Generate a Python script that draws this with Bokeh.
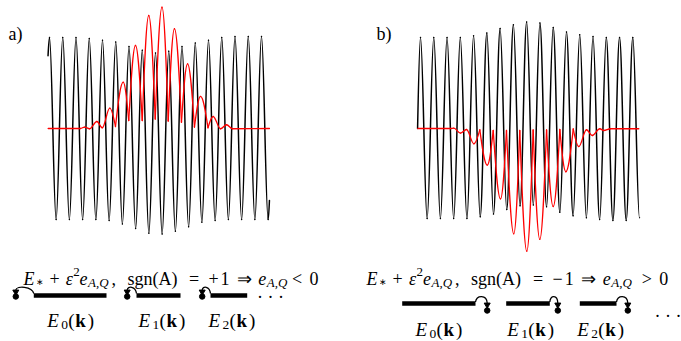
from bokeh.plotting import figure
from bokeh.models import Range1d
from bokeh.layouts import row
from bokeh.embed import file_html
from bokeh.resources import INLINE
from bokeh.core.properties import value

# ---------------- values ----------------
# black carrier: value at each successive peak (x = 0,1,2,..) and trough (x = 0.5,1.5,..)
# x in carrier periods, y in carrier-amplitude units
A_PEAKS = [1.00, 1.00, 1.00, 0.99, 0.97, 0.95, 0.90, 0.86, 0.83, 0.85, 0.90, 0.94, 0.97, 1.00, 1.01, 1.01, 1.01]
A_TROUGHS = [-1.00, -1.00, -1.00, -1.00, -1.01, -1.05, -1.10, -1.15, -1.16, -1.13, -1.08, -1.03, -1.01, -1.00, -1.00, -1.00, -1.00]
A_START = [-0.11, 0.80]
A_END = [16.6, -0.79]

B_PEAKS = [1.00, 1.00, 1.00, 1.00, 1.02, 1.05, 1.10, 1.14, 1.17, 1.16, 1.11, 1.06, 1.03, 1.01, 1.00, 1.00, 1.00]
B_TROUGHS = [-0.99, -0.99, -0.99, -0.99, -0.97, -0.94, -0.89, -0.85, -0.84, -0.86, -0.92, -0.96, -0.98, -1.00, -1.01, -1.01, -0.98]
B_START = [-0.22, 0.0]

# red wave packets: successive extrema
A_RED_X = [-0.10, 2.34, 2.64, 3.02, 3.58, 3.98, 4.55, 4.98, 5.56, 5.98, 6.49, 7.00, 7.49, 7.98, 8.49,
           8.96, 9.43, 9.96, 10.42, 10.94, 11.40, 11.96, 12.35, 12.91, 13.36, 13.81, 16.60]
A_RED_Y = [0.0, 0.0, 0.016, -0.003, 0.077, 0.008, 0.223, 0.022, 0.509, 0.088, 0.912, 0.088, 1.242, 0.104, 1.333,
           0.082, 1.096, 0.069, 0.711, 0.016, 0.352, 0.008, 0.132, -0.003, 0.041, -0.003, 0.0]

B_RED_X = [-0.20, 2.26, 2.51, 3.01, 3.47, 4.02, 4.47, 5.03, 5.48, 6.03, 6.48, 7.03, 7.48, 8.01, 8.49, 8.99,
           9.50, 10.00, 10.50, 10.95, 11.51, 11.93, 12.51, 12.94, 13.51, 13.81, 14.32, 16.45]
B_RED_Y = [0.0, 0.0, 0.005, -0.05, -0.011, -0.168, -0.014, -0.403, -0.022, -0.773, -0.022, -1.157, -0.022, -1.348,
           -0.016, -1.218, -0.016, -0.857, -0.011, -0.475, -0.005, -0.198, -0.014, -0.077, -0.003, -0.022, -0.003, -0.003]

PANEL_LABELS = ["a)", "b)"]
FORMULA_A = ["E", "\u2217", "+", "\u03b5", "2", "e", "A,Q", ",", "sgn(A)", "=", "+", "1", "\u21d2", "e", "A,Q", "<", "0"]
FORMULA_B = ["E", "\u2217", "+", "\u03b5", "2", "e", "A,Q", ",", "sgn(A)", "=", "\u2212", "1", "\u21d2", "e", "A,Q", ">", "0"]
FORMULA_ROLES = ["it", "ast", "rm", "it", "sup", "it", "subit", "rm", "rm", "rm", "rm", "rm", "rm", "it", "subit", "rm", "rm"]
BAND_INDEX = ["0", "1", "2"]
DOTS = "\u00b7 \u00b7 \u00b7"

# ---------------- layout (page pixels) ----------------
FONT = value("Liberation Serif")
FA_X = [23, 35.5, 49, 65.3, 72.7, 79.1, 87.6, 110.9, 127, 188.6, 207.9, 220.1, 236, 257.8, 266.3, 291.6, 308.9]
FB_X = [366, 378.6, 392.1, 408.5, 416, 422.4, 431, 454.5, 470.6, 532.6, 552, 564.3, 580.3, 602.2, 610.8, 641.3, 658.8]
ROLE_STYLE = {"it": ("18px", "italic", 0), "rm": ("18px", "normal", 0), "ast": ("9px", "normal", 3),
              "subit": ("13px", "italic", 4), "sup": ("13px", "normal", -7)}


def Y(py):
    return (128 - py) / 91.0


def make_fig(width, left_px, X):
    p = figure(width=width, height=341, output_backend="svg", toolbar_location=None,
               x_range=Range1d(X(left_px), X(left_px + width)), y_range=Range1d(Y(341), Y(0)),
               x_axis_location=None, y_axis_location=None, min_border=0)
    p.min_border_left = p.min_border_right = p.min_border_top = p.min_border_bottom = 0
    p.xgrid.grid_line_color = None
    p.ygrid.grid_line_color = None
    p.outline_line_color = None
    p.background_fill_color = "white"
    p.border_fill_color = "white"
    return p


def draw_curve(p, xs, ys, sharp, color, width):
    d = dict(x0=[], y0=[], x1=[], y1=[], cx0=[], cy0=[], cx1=[], cy1=[])
    for i in range(len(xs) - 1):
        dx = xs[i + 1] - xs[i]
        dy = ys[i + 1] - ys[i]
        if sharp[i]:
            c0 = (xs[i] + 0.326 * dx, ys[i] + 0.512 * dy)
        else:
            c0 = (xs[i] + 0.364 * dx, ys[i])
        if sharp[i + 1]:
            c1 = (xs[i + 1] - 0.326 * dx, ys[i + 1] - 0.512 * dy)
        else:
            c1 = (xs[i + 1] - 0.364 * dx, ys[i + 1])
        d["x0"].append(xs[i]); d["y0"].append(ys[i])
        d["x1"].append(xs[i + 1]); d["y1"].append(ys[i + 1])
        d["cx0"].append(c0[0]); d["cy0"].append(c0[1])
        d["cx1"].append(c1[0]); d["cy1"].append(c1[1])
    p.bezier(source=d, x0="x0", y0="y0", x1="x1", y1="y1", cx0="cx0", cy0="cy0", cx1="cx1", cy1="cy1",
             line_color=color, line_width=width, line_cap="round")


def carrier(peaks, troughs, start, end):
    xs = [start[0]]; ys = [start[1]]; sharp = [True]
    for j in range(len(peaks)):
        xs += [j, j + 0.5]
        ys += [peaks[j], troughs[j]]
        sharp += [False, False]
    if end is not None:
        xs.append(end[0]); ys.append(end[1]); sharp.append(True)
    return xs, ys, sharp


def red_sharp(ys, sign):
    s = [False] * len(ys)
    for i in range(1, len(ys) - 1):
        a, b, c = sign * ys[i - 1], sign * ys[i], sign * ys[i + 1]
        if b < a and b < c and min(a, c) > 0.12:
            s[i] = True
    return s


def put_text(p, X, items):
    groups = {}
    for t, px, py, size, style in items:
        groups.setdefault((size, style), []).append((t, X(px), Y(py)))
    for (size, style), lst in groups.items():
        p.text(x=[v[1] for v in lst], y=[v[2] for v in lst], text=[v[0] for v in lst],
               text_font=FONT, text_font_size=size, text_font_style=style,
               text_color="black", text_baseline="alphabetic", text_align="left")


def formula_items(strings, xs, base):
    out = []
    for s, r, x in zip(strings, FORMULA_ROLES, xs):
        size, style, dy = ROLE_STYLE[r]
        out.append((s, x, base + dy, size, style))
    return out


def label_items(idx, x, base):
    return [("E", x, base, "19px", "italic"), (idx, x + 14, base + 4.5, "13.5px", "normal"),
            ("(", x + 21, base, "19px", "normal"), ("k", x + 28, base, "19px", "bold"),
            (")", x + 40.5, base, "19px", "normal")]


# ---------------- panel a ----------------
XA = lambda px: (px - 49) / 13.25
pa = make_fig(341, 0, XA)
bx, by, bs = carrier(A_PEAKS, A_TROUGHS, A_START, A_END)
draw_curve(pa, bx, by, bs, "black", 1.5)
draw_curve(pa, A_RED_X, A_RED_Y, red_sharp(A_RED_Y, +1), "#ff0000", 1.3)

a_bars = [(33.3, 106), (136, 180), (210, 246.7)]
a_dots = [15.3, 126.7, 201.7]
a_lab = [46.7, 138, 208]
pa.segment(x0=[XA(b[0]) for b in a_bars], x1=[XA(b[1]) for b in a_bars], y0=[Y(295)] * 3, y1=[Y(295)] * 3,
           line_color="black", line_width=4.6, line_cap="butt")
arc = dict(x0=[], y0=[], x1=[], y1=[], cx0=[], cy0=[], cx1=[], cy1=[])
for (L, _), D in zip(a_bars, a_dots):
    w = L - D
    arc["x0"].append(XA(L)); arc["y0"].append(Y(293))
    arc["x1"].append(XA(D)); arc["y1"].append(Y(289.5))
    arc["cx0"].append(XA(L - 0.1 * w)); arc["cy0"].append(Y(285.8))
    arc["cx1"].append(XA(D + 0.05 * w)); arc["cy1"].append(Y(285.0))
pa.bezier(source=arc, x0="x0", y0="y0", x1="x1", y1="y1", cx0="cx0", cy0="cy0", cx1="cx1", cy1="cy1",
          line_color="black", line_width=1.3)
pa.scatter(x=[XA(d) for d in a_dots], y=[Y(291.3)] * 3, marker="inverted_triangle", size=6,
           fill_color="black", line_color="black")
pa.scatter(x=[XA(d) for d in a_dots], y=[Y(296)] * 3, marker="circle", size=5.5,
           fill_color="black", line_color="black")
items = [(PANEL_LABELS[0], 8, 33, "18px", "normal"), (DOTS, 256.5, 296, "18px", "normal")]
items += formula_items(FORMULA_A, FA_X, 278)
for idx, x in zip(BAND_INDEX, a_lab):
    items += label_items(idx, x, 320)
put_text(pa, XA, items)

# ---------------- panel b ----------------
XB = lambda px: (px - 420) / 13.27
pb = make_fig(340, 341, XB)
bx, by, bs = carrier(B_PEAKS, B_TROUGHS, B_START, None)
draw_curve(pb, bx, by, bs, "black", 1.5)
draw_curve(pb, B_RED_X, B_RED_Y, red_sharp(B_RED_Y, -1), "#ff0000", 1.3)

b_bars = [(401.7, 475), (505.7, 549.3), (579.3, 616)]
b_dots = [486.7, 557.3, 627.3]
b_lab = [415, 506.7, 576.7]
pb.segment(x0=[XB(b[0]) for b in b_bars], x1=[XB(b[1]) for b in b_bars], y0=[Y(303)] * 3, y1=[Y(303)] * 3,
           line_color="black", line_width=4.6, line_cap="butt")
arc = dict(x0=[], y0=[], x1=[], y1=[], cx0=[], cy0=[], cx1=[], cy1=[])
for (_, R), D in zip(b_bars, b_dots):
    w = D - R
    arc["x0"].append(XB(R)); arc["y0"].append(Y(301.5))
    arc["x1"].append(XB(D)); arc["y1"].append(Y(302.5))
    arc["cx0"].append(XB(R + 0.1 * w)); arc["cy0"].append(Y(294.3))
    arc["cx1"].append(XB(D - 0.05 * w)); arc["cy1"].append(Y(294.0))
pb.bezier(source=arc, x0="x0", y0="y0", x1="x1", y1="y1", cx0="cx0", cy0="cy0", cx1="cx1", cy1="cy1",
          line_color="black", line_width=1.3)
pb.scatter(x=[XB(d) for d in b_dots], y=[Y(304.3)] * 3, marker="inverted_triangle", size=6,
           fill_color="black", line_color="black")
pb.scatter(x=[XB(d) for d in b_dots], y=[Y(310)] * 3, marker="circle", size=5.5,
           fill_color="black", line_color="black")
items = [(PANEL_LABELS[1], 376, 33, "18px", "normal"), (DOTS, 654, 315, "18px", "normal")]
items += formula_items(FORMULA_B, FB_X, 278)
for idx, x in zip(BAND_INDEX, b_lab):
    items += label_items(idx, x, 329)
put_text(pb, XB, items)

layout = row(pa, pb)
open("out.html", "w").write(file_html(layout, INLINE))
